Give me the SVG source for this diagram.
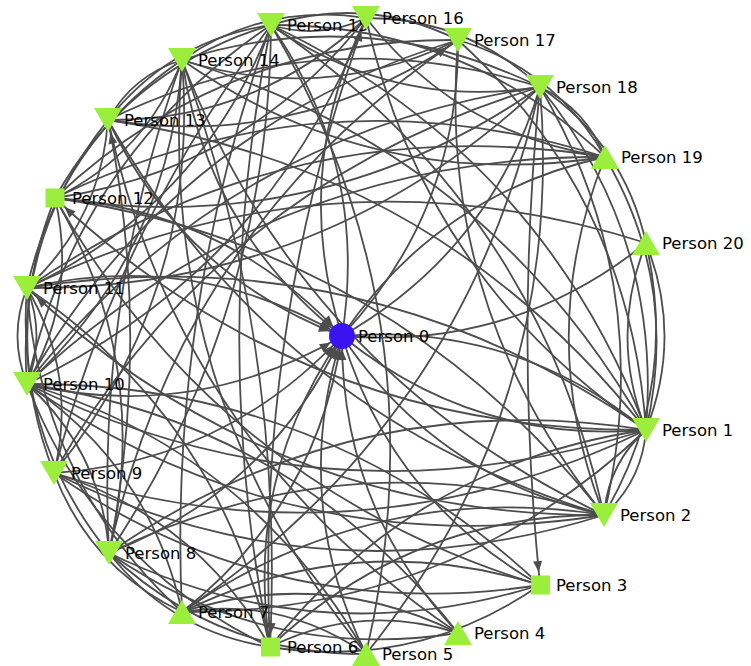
<svg xmlns="http://www.w3.org/2000/svg" width="751" height="666" viewBox="0 0 751 666">
<style>
.e{fill:none;stroke:#4d4d4d;stroke-width:1.8}
.a{marker-end:url(#arr)}
.n{fill:#9bee3b}
.c{fill:#3a14f0}
text{font-family:"DejaVu Sans","Noto Sans",sans-serif;font-size:16.5px;fill:#000}
</style>
<defs>
<marker id="arr" markerUnits="userSpaceOnUse" markerWidth="11" markerHeight="9" refX="24" refY="4.5" orient="auto" overflow="visible">
<path d="M0,0 L11,4.5 L0,9 z" fill="#4d4d4d"/>
</marker>
</defs>
<rect width="751" height="666" fill="#fff"/>
<g id="edges">
<path class="e a" d="M366,654 Q290,500 342,336"/>
<path class="e a" d="M270,647 Q244,477 342,336"/>
<path class="e a" d="M182,612 Q317,506 342,336"/>
<path class="e a" d="M109,553 Q269,491 342,336"/>
<path class="e a" d="M54,473 Q225,462 342,336"/>
<path class="e a" d="M27,384 Q194,423 342,336"/>
<path class="e a" d="M27,288 Q194,249 342,336"/>
<path class="e a" d="M55,198 Q226,210 342,336"/>
<path class="e a" d="M108,120 Q182,275 342,336"/>
<path class="e a" d="M458,633 Q341,508 342,336"/>
<path class="e a" d="M182,60 Q207,230 342,336"/>
<path class="e a" d="M540,87 Q515,336 540,585"/>
<path class="e" d="M342,336 Q475,444 646,430"/>
<path class="e" d="M646,430 Q513,322 342,336"/>
<path class="e" d="M342,336 Q437,478 604,515"/>
<path class="e" d="M342,336 Q391,500 540,585"/>
<path class="e" d="M342,336 Q369,166 271,25"/>
<path class="e" d="M342,336 Q290,172 366,18"/>
<path class="e" d="M342,336 Q491,251 540,87"/>
<path class="e" d="M342,336 Q438,194 605,157"/>
<path class="e" d="M342,336 Q513,350 646,243"/>
<path class="e" d="M342,336 Q459,211 458,40"/>
<path class="e" d="M646,430 Q359,570 54,473"/>
<path class="e" d="M646,430 Q327,531 27,384"/>
<path class="e" d="M646,430 Q365,235 27,288"/>
<path class="e a" d="M646,430 Q304,432 55,198"/>
<path class="e" d="M646,430 Q439,167 108,120"/>
<path class="e" d="M646,430 Q353,384 109,553"/>
<path class="e" d="M646,430 Q450,614 182,612"/>
<path class="e" d="M646,430 Q662,237 540,87"/>
<path class="e" d="M646,430 Q680,285 605,157"/>
<path class="e" d="M646,430 Q683,336 646,243"/>
<path class="e" d="M646,243 Q609,336 646,430"/>
<path class="e" d="M646,430 Q608,464 604,515"/>
<path class="e" d="M604,515 Q642,481 646,430"/>
<path class="e" d="M646,430 Q415,463 270,647"/>
<path class="e" d="M646,430 Q488,152 182,60"/>
<path class="e" d="M646,430 Q540,153 271,25"/>
<path class="e" d="M646,430 Q424,280 366,18"/>
<path class="e" d="M646,430 Q630,197 458,40"/>
<path class="e" d="M604,515 Q349,435 109,553"/>
<path class="e" d="M604,515 Q321,604 54,473"/>
<path class="e" d="M604,515 Q289,565 27,384"/>
<path class="e" d="M604,515 Q393,247 55,198"/>
<path class="e" d="M604,515 Q277,417 108,120"/>
<path class="e" d="M604,515 Q658,288 540,87"/>
<path class="e" d="M604,515 Q533,336 605,157"/>
<path class="e" d="M604,515 Q679,387 646,243"/>
<path class="e" d="M604,515 Q411,514 270,647"/>
<path class="e" d="M604,515 Q374,479 182,612"/>
<path class="e" d="M604,515 Q536,203 271,25"/>
<path class="e" d="M604,515 Q302,372 182,60"/>
<path class="e a" d="M604,515 Q270,517 27,288"/>
<path class="e" d="M540,585 Q318,655 109,553"/>
<path class="e" d="M540,585 Q356,527 182,612"/>
<path class="e" d="M540,585 Q417,670 270,647"/>
<path class="e" d="M540,585 Q324,382 27,384"/>
<path class="e" d="M540,585 Q275,626 54,473"/>
<path class="e" d="M540,585 Q220,488 55,198"/>
<path class="e" d="M458,633 Q361,602 270,647"/>
<path class="e" d="M458,633 Q324,567 182,612"/>
<path class="e" d="M458,633 Q268,663 109,553"/>
<path class="e" d="M458,633 Q292,422 27,384"/>
<path class="e" d="M458,633 Q180,447 108,120"/>
<path class="e" d="M366,654 Q282,596 182,612"/>
<path class="e" d="M366,654 Q217,655 109,553"/>
<path class="e" d="M366,654 Q250,451 27,384"/>
<path class="e" d="M366,654 Q155,394 182,60"/>
<path class="e" d="M366,654 Q444,320 271,25"/>
<path class="e" d="M366,654 Q566,405 540,87"/>
<path class="e" d="M270,647 Q171,632 109,553"/>
<path class="e" d="M270,647 Q197,517 54,473"/>
<path class="e" d="M270,647 Q96,564 27,384"/>
<path class="e" d="M270,647 Q208,336 271,25"/>
<path class="e a" d="M270,647 Q255,323 366,18"/>
<path class="e a" d="M182,60 Q285,345 270,647"/>
<path class="e" d="M270,647 Q220,419 27,288"/>
<path class="e" d="M182,612 Q90,568 54,473"/>
<path class="e" d="M182,612 Q150,467 27,384"/>
<path class="e" d="M182,612 Q40,481 27,288"/>
<path class="e" d="M182,612 Q168,310 271,25"/>
<path class="e" d="M182,612 Q466,421 540,87"/>
<path class="e" d="M109,553 Q102,452 27,384"/>
<path class="e" d="M109,553 Q15,437 27,288"/>
<path class="e" d="M109,553 Q153,365 55,198"/>
<path class="e a" d="M109,553 Q152,336 108,120"/>
<path class="e" d="M109,553 Q96,299 182,60"/>
<path class="e" d="M109,553 Q269,313 271,25"/>
<path class="e a" d="M109,553 Q181,227 458,40"/>
<path class="e" d="M54,473 Q78,375 27,288"/>
<path class="e" d="M54,473 Q0,335 55,198"/>
<path class="e" d="M54,473 Q201,292 182,60"/>
<path class="e" d="M54,473 Q118,227 271,25"/>
<path class="e" d="M54,473 Q220,183 540,87"/>
<path class="e" d="M27,384 Q78,297 55,198"/>
<path class="e" d="M27,384 Q15,236 108,120"/>
<path class="e" d="M27,384 Q169,253 182,60"/>
<path class="e" d="M27,384 Q77,156 271,25"/>
<path class="e" d="M27,384 Q270,269 366,18"/>
<path class="e" d="M27,384 Q174,126 458,40"/>
<path class="e" d="M27,384 Q224,133 540,87"/>
<path class="e" d="M27,384 Q271,155 605,157"/>
<path class="e" d="M27,384 Q46,336 27,288"/>
<path class="e" d="M27,288 Q8,336 27,384"/>
<path class="e" d="M27,288 Q101,220 108,120"/>
<path class="e" d="M27,288 Q59,143 182,60"/>
<path class="e" d="M27,288 Q202,205 271,25"/>
<path class="e" d="M27,288 Q324,290 540,87"/>
<path class="e" d="M27,288 Q290,107 605,157"/>
<path class="e" d="M27,288 Q328,142 646,243"/>
<path class="e" d="M55,198 Q146,154 182,60"/>
<path class="e" d="M55,198 Q128,68 271,25"/>
<path class="e" d="M55,198 Q247,170 366,18"/>
<path class="e" d="M55,198 Q225,38 458,40"/>
<path class="e" d="M55,198 Q320,240 540,87"/>
<path class="e" d="M55,198 Q322,68 605,157"/>
<path class="e" d="M108,120 Q171,40 271,25"/>
<path class="e" d="M108,120 Q299,150 458,40"/>
<path class="e" d="M108,120 Q317,17 540,87"/>
<path class="e" d="M108,120 Q257,121 366,18"/>
<path class="e" d="M182,60 Q266,2 366,18"/>
<path class="e" d="M182,60 Q324,105 458,40"/>
<path class="e" d="M182,60 Q366,2 540,87"/>
<path class="e" d="M182,60 Q374,193 605,157"/>
<path class="e" d="M182,60 Q133,75 108,120"/>
<path class="e" d="M271,25 Q368,-5 458,40"/>
<path class="e" d="M271,25 Q393,110 540,87"/>
<path class="e" d="M271,25 Q464,24 605,157"/>
<path class="e" d="M271,25 Q320,40 366,18"/>
<path class="e" d="M366,18 Q467,18 540,87"/>
<path class="e" d="M366,18 Q458,135 605,157"/>
<path class="e" d="M458,40 Q555,69 605,157"/>
<path class="e" d="M458,40 Q436,307 604,515"/>
<path class="e" d="M540,87 Q624,144 646,243"/>
<path class="e" d="M540,87 Q586,109 605,157"/>
</g>
<g id="node0"><circle class="c" cx="342" cy="336" r="13"/><text x="358" y="342">Person 0</text></g>
<g id="node1"><polygon class="n" points="632,418 660,418 646,442"/><text x="662" y="436">Person 1</text></g>
<g id="node2"><polygon class="n" points="590,503 618,503 604,527"/><text x="620" y="521">Person 2</text></g>
<g id="node3"><rect class="n" x="531" y="575.5" width="19" height="19"/><text x="556" y="591">Person 3</text></g>
<g id="node4"><polygon class="n" points="458,621 444,645 472,645"/><text x="474" y="639">Person 4</text></g>
<g id="node5"><polygon class="n" points="366,642 352,666 380,666"/><text x="382" y="660">Person 5</text></g>
<g id="node6"><rect class="n" x="261" y="637.5" width="19" height="19"/><text x="287" y="653">Person 6</text></g>
<g id="node7"><polygon class="n" points="182,600 168,624 196,624"/><text x="198" y="618">Person 7</text></g>
<g id="node8"><polygon class="n" points="95,541 123,541 109,565"/><text x="125" y="559">Person 8</text></g>
<g id="node9"><polygon class="n" points="40,461 68,461 54,485"/><text x="71" y="479">Person 9</text></g>
<g id="node10"><polygon class="n" points="13,372 41,372 27,396"/><text x="43" y="390">Person 10</text></g>
<g id="node11"><polygon class="n" points="13,276 41,276 27,300"/><text x="43" y="294">Person 11</text></g>
<g id="node12"><rect class="n" x="45.5" y="188.5" width="19" height="19"/><text x="72" y="204">Person 12</text></g>
<g id="node13"><polygon class="n" points="94,108 122,108 108,132"/><text x="124" y="126">Person 13</text></g>
<g id="node14"><polygon class="n" points="168,48 196,48 182,72"/><text x="198" y="66">Person 14</text></g>
<g id="node15"><polygon class="n" points="257,13 285,13 271,37"/><text x="287" y="31">Person 15</text></g>
<g id="node16"><polygon class="n" points="352,6 380,6 366,30"/><text x="382" y="24">Person 16</text></g>
<g id="node17"><polygon class="n" points="444,28 472,28 458,52"/><text x="474" y="46">Person 17</text></g>
<g id="node18"><polygon class="n" points="526,75 554,75 540,99"/><text x="556" y="93">Person 18</text></g>
<g id="node19"><polygon class="n" points="605,145 591,169 619,169"/><text x="621" y="163">Person 19</text></g>
<g id="node20"><polygon class="n" points="646,231 632,255 660,255"/><text x="662" y="249">Person 20</text></g>
</svg>
